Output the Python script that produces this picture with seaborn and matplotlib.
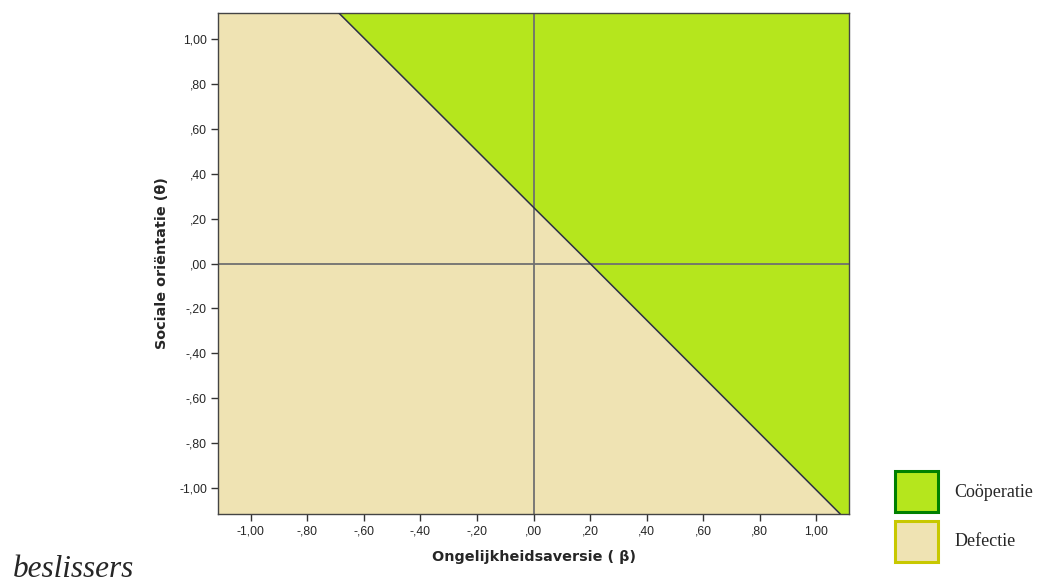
import numpy as np
import pandas as pd
import seaborn as sns
import matplotlib.pyplot as plt
from matplotlib.patches import Patch

# boundary between cooperation and defection
boundary_x = [-0.688, 0.0, 0.20, 1.084]
boundary_y = [1.115, 0.25, 0.0, -1.115]

x_ticks = [-1.0, -0.8, -0.6, -0.4, -0.2, 0.0, 0.2, 0.4, 0.6, 0.8, 1.0]
y_ticks = [-1.0, -0.8, -0.6, -0.4, -0.2, 0.0, 0.2, 0.4, 0.6, 0.8, 1.0]
tick_labels = ["-1,00", "-,80", "-,60", "-,40", "-,20", ",00", ",20", ",40", ",60", ",80", "1,00"]

legend_labels = ["Coöperatie", "Defectie"]
lim = 1.115

sns.set_style("white")
plt.rcParams['font.family'] = ['Liberation Sans', 'DejaVu Sans']

green = "#b5e61d"
beige = "#efe3b3"


def main():
    fig = plt.figure(figsize=(10.4, 5.86), dpi=100)
    ax = fig.add_axes([218 / 1040, 72 / 586, 631 / 1040, 501 / 586])
    ax.set_facecolor(beige)

    df = pd.DataFrame({"x": boundary_x, "y": boundary_y})

    # cooperation region above the boundary
    xs = np.array(boundary_x + [lim])
    ys = np.array(boundary_y + [-lim])
    ax.fill_between(xs, ys, lim, color=green, lw=0, zorder=1)

    ax.axhline(0, color="#707070", lw=1.3, zorder=2)
    ax.axvline(0, color="#707070", lw=1.3, zorder=2)

    sns.lineplot(data=df, x="x", y="y", color="#2b2f45", lw=1.1, ax=ax, zorder=3)

    ax.set_xlim(-lim, lim)
    ax.set_ylim(-lim, lim)
    ax.set_xticks(x_ticks)
    ax.set_yticks(y_ticks)
    ax.set_xticklabels(tick_labels, fontsize=8.7)
    ax.set_yticklabels(tick_labels, fontsize=8.7)
    ax.tick_params(bottom=True, left=True, direction="out", length=5, width=1,
                   color="#333333", pad=3)
    for s in ax.spines.values():
        s.set_color("#444444")
        s.set_linewidth(1)

    ax.set_xlabel("Ongelijkheidsaversie ( β)", fontsize=10.4, fontweight="bold",
                  family="DejaVu Sans", labelpad=9)
    ax.set_ylabel("Sociale oriëntatie (θ)", fontsize=10.4, fontweight="bold",
                  family="DejaVu Sans", labelpad=7)

    handles = [Patch(facecolor=green, edgecolor="#008000", lw=2.2),
               Patch(facecolor=beige, edgecolor="#c8c800", lw=2.2)]
    fig.legend(handles, legend_labels, loc="upper left", bbox_to_anchor=(895 / 1040, 1 - 471 / 586),
               frameon=False, borderpad=0, borderaxespad=0,
               handlelength=2.4, handleheight=3.15, handletextpad=0.9,
               labelspacing=0.45, prop={"family": "Liberation Serif", "size": 13})

    fig.text(13 / 1040, 9 / 586, "beslissers", fontsize=22.5, style="italic",
             family="Liberation Serif", va="baseline")

    plt.savefig("out.png", dpi=100)


if __name__ == '__main__':
    main()
